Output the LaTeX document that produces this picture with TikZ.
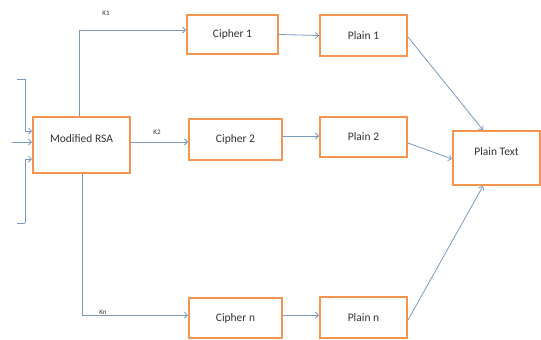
\documentclass[tikz,border=0pt]{standalone}
\usepackage{fontspec}
\setmainfont{Carlito}
\usetikzlibrary{arrows.meta,calc}
\definecolor{boxor}{RGB}{244,148,78}
\definecolor{lineb}{RGB}{122,152,192}
\definecolor{txt}{RGB}{50,50,50}
\tikzset{
  box/.style={draw=boxor, line width=2pt, fill=white, rectangle, inner sep=0pt,
    text=txt, font=\fontsize{11.5}{13}\selectfont},
  conn/.style={draw=lineb, line width=0.8pt, -{Straight Barb[length=3pt,width=6pt]}},
  plainline/.style={draw=lineb, line width=0.8pt},
  klabel/.style={text=txt, font=\fontsize{7}{8}\selectfont, inner sep=0pt}
}
\begin{document}
\begin{tikzpicture}[x=1pt,y=-1pt]
\useasboundingbox (0,0) rectangle (541,340);
% boxes
\node[box, minimum width=97pt, minimum height=56pt, text height=8pt, text depth=14pt] (rsa) at (81.5,145) {Modified RSA};
\node[box, minimum width=91pt, minimum height=39pt] (c1) at (232.5,34.5) {Cipher 1};
\node[box, minimum width=93pt, minimum height=41pt] (c2) at (235.5,139.5) {Cipher 2};
\node[box, minimum width=93pt, minimum height=40pt] (cn) at (235.5,318) {Cipher n};
\node[box, minimum width=87pt, minimum height=41pt] (p1) at (363.5,35.5) {Plain 1};
\node[box, minimum width=87pt, minimum height=40pt] (p2) at (363.5,137) {Plain 2};
\node[box, minimum width=87pt, minimum height=41pt] (pn) at (363.5,317.5) {Plain n};
\node[box, minimum width=87pt, minimum height=54pt, text height=8pt, text depth=13pt] (pt) at (496.5,158) {Plain Text};
% labels
\node[klabel] (k1) at (106,13) {K1};
\node[klabel] (k2) at (157,132) {K2};
\node[klabel] (kn) at (103,312) {Kn};
% left inputs
\coordinate (i1a) at (17,79);
\coordinate (i1b) at (25,79);
\coordinate (i2) at (12,142);
\coordinate (i3a) at (17,223);
\coordinate (i3b) at (25,223);
\coordinate (r1) at ($(rsa.west)+(0,-14)$);
\coordinate (r3) at ($(rsa.west)+(0,14)$);
\draw[plainline] (i1a) -- (i1b);
\draw[conn] (i1b) |- (r1);
\draw[conn] (i2) -- (i2 -| rsa.west);
\draw[plainline] (i3a) -- (i3b);
\draw[conn] (i3b) |- (r3);
% RSA to ciphers
\coordinate (rtop) at ($(rsa.north west)+(47,0)$);
\coordinate (c1in) at ($(c1.west)+(0,-4.5)$);
\coordinate (rout) at ($(rsa.east)+(0,-3)$);
\coordinate (rbot) at ($(rsa.south west)+(50,0)$);
\coordinate (cnin) at ($(cn.west)+(0,-3)$);
\draw[conn] (rtop) |- (c1in);
\draw[conn] (rout) -- (rout -| c2.west);
\draw[conn] (rbot) |- (cnin);
% ciphers to plains
\coordinate (c2out) at ($(c2.east)+(0,-3.5)$);
\coordinate (cnout) at ($(cn.east)+(0,-3)$);
\draw[conn] (c1.east) -- (p1.west);
\draw[conn] (c2out) -- (c2out -| p2.west);
\draw[conn] (cnout) -- (cnout -| pn.west);
% plains to plain text
\coordinate (p1out) at ($(p1.east)+(0,1.5)$);
\coordinate (p2out) at ($(p2.east)+(0,6)$);
\coordinate (pnout) at ($(pn.east)+(0,2.5)$);
\coordinate (ptin1) at ($(pt.north west)+(31,0)$);
\coordinate (ptin2) at ($(pt.west)+(0,1)$);
\coordinate (ptin3) at ($(pt.south west)+(31,0)$);
\draw[conn] (p1out) -- (ptin1);
\draw[conn] (p2out) -- (ptin2);
\draw[conn] (pnout) -- (ptin3);
\end{tikzpicture}
\end{document}
